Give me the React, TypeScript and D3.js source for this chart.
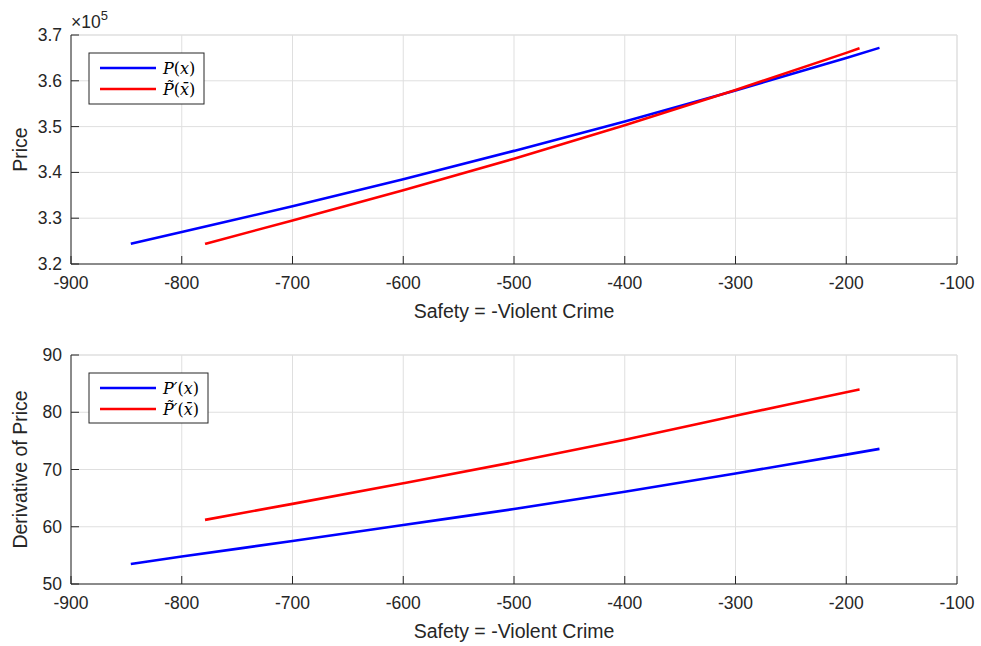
import React from "react";
import * as d3 from "d3";

const W = 981;
const H = 646;

// Top panel: price curves (values in units of 1e5)
const priceBlueX = [-846, -800, -700, -600, -500, -400, -300, -200, -170];
const priceBlueY = [3.244, 3.270, 3.326, 3.385, 3.447, 3.511, 3.579, 3.650, 3.672];
const priceRedX = [-779, -700, -600, -500, -400, -300, -200, -188];
const priceRedY = [3.244, 3.295, 3.361, 3.430, 3.503, 3.580, 3.661, 3.671];

// Bottom panel: derivative curves
const derivBlueX = [-846, -800, -700, -600, -500, -400, -300, -200, -170];
const derivBlueY = [53.5, 54.8, 57.5, 60.3, 63.1, 66.1, 69.3, 72.6, 73.6];
const derivRedX = [-779, -700, -600, -500, -400, -300, -200, -188];
const derivRedY = [61.2, 64.0, 67.6, 71.3, 75.2, 79.4, 83.5, 84.0];

const xTicks = [-900, -800, -700, -600, -500, -400, -300, -200, -100];
const priceTicks = [3.2, 3.3, 3.4, 3.5, 3.6, 3.7];
const derivTicks = [50, 60, 70, 80, 90];

const AX = "#262626";
const GRID = "#dfdfdf";
const FONT = "'Liberation Sans', Arial, sans-serif";
const MATH = "'DejaVu Serif', 'Liberation Serif', serif";

type Panel = {
  top: number;
  bottom: number;
  yDomain: [number, number];
  yTicks: number[];
  fmt: (v: number) => string;
  ylabel: string;
  blue: [number[], number[]];
  red: [number[], number[]];
  legend: "price" | "deriv";
  exponent?: boolean;
};

const x = d3.scaleLinear().domain([-900, -100]).range([71, 957]);

function LegendText({ kind, tilde }: { kind: "price" | "deriv"; tilde: boolean }) {
  const prime = kind === "deriv" ? "\u2032" : "";
  return (
    <>
      <tspan fontStyle="italic">{tilde ? "P\u0303" : "P"}</tspan>
      {prime && <tspan fontStyle="italic">{prime}</tspan>}
      <tspan>(</tspan>
      <tspan fontStyle="italic">{tilde ? "x\u0304" : "x"}</tspan>
      <tspan>)</tspan>
    </>
  );
}

function PanelView({ p }: { p: Panel }) {
  const y = d3.scaleLinear().domain(p.yDomain).range([p.bottom, p.top]);
  const line = d3
    .line<[number, number]>()
    .x((d) => x(d[0]))
    .y((d) => y(d[1]))
    .curve(d3.curveMonotoneX);
  const blue = p.blue[0].map((v, i) => [v, p.blue[1][i]] as [number, number]);
  const red = p.red[0].map((v, i) => [v, p.red[1][i]] as [number, number]);
  const x0 = x.range()[0];
  const x1 = x.range()[1];
  const lgX = 89;
  const lgY = p.legend === "price" ? 53 : 373;
  const lgW = p.legend === "price" ? 115 : 119;
  const lgH = p.legend === "price" ? 51 : 50;
  const midY = (p.top + p.bottom) / 2;
  return (
    <g>
      {/* grid */}
      {xTicks.map((t) => (
        <line key={"gx" + t} x1={x(t)} x2={x(t)} y1={p.top} y2={p.bottom} stroke={GRID} strokeWidth={1} />
      ))}
      {p.yTicks.map((t) => (
        <line key={"gy" + t} x1={x0} x2={x1} y1={y(t)} y2={y(t)} stroke={GRID} strokeWidth={1} />
      ))}
      {/* box top/right light */}
      <line x1={x0} x2={x1} y1={p.top} y2={p.top} stroke={GRID} />
      <line x1={x1} x2={x1} y1={p.top} y2={p.bottom} stroke={GRID} />
      {/* data */}
      <path d={line(blue) || ""} fill="none" stroke="#0000ff" strokeWidth={2.6} />
      <path d={line(red) || ""} fill="none" stroke="#ff0000" strokeWidth={2.6} />
      {/* axes */}
      <line x1={x0} x2={x1} y1={p.bottom} y2={p.bottom} stroke={AX} strokeWidth={1} />
      <line x1={x0} x2={x0} y1={p.top} y2={p.bottom} stroke={AX} strokeWidth={1} />
      {xTicks.map((t) => (
        <g key={"xt" + t}>
          <line x1={x(t)} x2={x(t)} y1={p.bottom} y2={p.bottom - 8} stroke={AX} />
          <text x={x(t)} y={p.bottom + 25} textAnchor="middle" fontSize={17.5} fill={AX} fontFamily={FONT}>
            {t}
          </text>
        </g>
      ))}
      {p.yTicks.map((t) => (
        <g key={"yt" + t}>
          <line x1={x0} x2={x0 + 8} y1={y(t)} y2={y(t)} stroke={AX} />
          <text x={x0 - 9} y={y(t) + 6} textAnchor="end" fontSize={17.5} fill={AX} fontFamily={FONT}>
            {p.fmt(t)}
          </text>
        </g>
      ))}
      <text x={(x0 + x1) / 2} y={p.bottom + 54} textAnchor="middle" fontSize={19.5} fill={AX} fontFamily={FONT}>
        Safety = -Violent Crime
      </text>
      <text
        transform={`translate(27,${midY}) rotate(-90)`}
        textAnchor="middle"
        fontSize={19.5}
        fill={AX}
        fontFamily={FONT}
      >
        {p.ylabel}
      </text>
      {p.exponent && (
        <text x={x0} y={p.top - 7} fontSize={17.5} fill={AX} fontFamily={FONT}>
          {"\u00d710"}
          <tspan dy={-8} fontSize={13}>
            5
          </tspan>
        </text>
      )}
      {/* legend */}
      <rect x={lgX} y={lgY} width={lgW} height={lgH} fill="#fff" stroke={AX} strokeWidth={1} />
      <line x1={lgX + 11} x2={lgX + 67} y1={lgY + 15} y2={lgY + 15} stroke="#0000ff" strokeWidth={2.6} />
      <line x1={lgX + 11} x2={lgX + 67} y1={lgY + 36} y2={lgY + 36} stroke="#ff0000" strokeWidth={2.6} />
      <text x={lgX + 74} y={lgY + 21} fontSize={16} fill="#000" fontFamily={MATH}>
        <LegendText kind={p.legend} tilde={false} />
      </text>
      <text x={lgX + 74} y={lgY + 42} fontSize={16} fill="#000" fontFamily={MATH}>
        <LegendText kind={p.legend} tilde={true} />
      </text>
    </g>
  );
}

export default function App() {
  const panels: Panel[] = [
    {
      top: 35,
      bottom: 264,
      yDomain: [3.2, 3.7],
      yTicks: priceTicks,
      fmt: (v) => v.toFixed(1),
      ylabel: "Price",
      blue: [priceBlueX, priceBlueY],
      red: [priceRedX, priceRedY],
      legend: "price",
      exponent: true,
    },
    {
      top: 355,
      bottom: 584,
      yDomain: [50, 90],
      yTicks: derivTicks,
      fmt: (v) => String(v),
      ylabel: "Derivative of Price",
      blue: [derivBlueX, derivBlueY],
      red: [derivRedX, derivRedY],
      legend: "deriv",
    },
  ];
  return (
    <svg width={W} height={H} style={{ position: "absolute", left: 0, top: 0, background: "#fff" }}>
      <rect width={W} height={H} fill="#fff" />
      {panels.map((p, i) => (
        <PanelView key={i} p={p} />
      ))}
    </svg>
  );
}
